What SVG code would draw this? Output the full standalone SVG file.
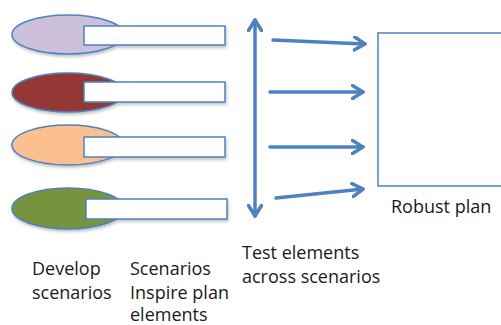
<svg xmlns="http://www.w3.org/2000/svg" width="501" height="325" viewBox="0 0 501 325">
  <style>
    .ell { stroke: #4F81BD; stroke-width: 1.5; }
    .box { fill: #FFFFFF; stroke: #4F81BD; stroke-width: 1.5; }
    .conn { stroke: #4F81BD; stroke-width: 3.5; fill: none; stroke-linecap: round; }
    .lbl { font-family: "Open Sans", "Liberation Sans", sans-serif; font-size: 18px; fill: #1a1a1a; }
  </style>
  <defs>
    <filter id="sh" x="-10%" y="-20%" width="130%" height="160%">
      <feDropShadow dx="1" dy="2" stdDeviation="1.5" flood-color="#000" flood-opacity="0.25"/>
    </filter>
    <marker id="ah" viewBox="0 0 14 16" refX="12" refY="8" markerWidth="14" markerHeight="16" markerUnits="userSpaceOnUse" orient="auto-start-reverse">
      <path d="M1.5,1.5 L12,8 L1.5,14.5" fill="none" stroke="#4F81BD" stroke-width="3.5" stroke-linecap="round" stroke-linejoin="round"/>
    </marker>
  </defs>

  <g id="scenario1" filter="url(#sh)">
    <ellipse class="ell" cx="68" cy="34.5" rx="56" ry="19.5" fill="#CCC0DA"/>
    <rect class="box" x="84" y="26" width="141" height="19"/>
  </g>
  <g id="scenario2" filter="url(#sh)">
    <ellipse class="ell" cx="68" cy="92.5" rx="56" ry="19.5" fill="#953735"/>
    <rect class="box" x="84" y="82" width="141" height="20"/>
  </g>
  <g id="scenario3" filter="url(#sh)">
    <ellipse class="ell" cx="68" cy="145" rx="56" ry="20" fill="#FAC090"/>
    <rect class="box" x="84" y="137" width="141" height="20"/>
  </g>
  <g id="scenario4" filter="url(#sh)">
    <ellipse class="ell" cx="68" cy="208.5" rx="56" ry="20.5" fill="#77933C"/>
    <rect class="box" x="86" y="199" width="141" height="20"/>
  </g>

  <g id="robust-plan">
    <rect x="378" y="33" width="130" height="153" fill="#FFFFFF" stroke="#4F81BD" stroke-width="1.5"/>
  </g>

  <g id="connectors">
    <line class="conn" x1="255" y1="20" x2="255" y2="216" marker-start="url(#ah)" marker-end="url(#ah)"/>
    <line class="conn" x1="273" y1="40" x2="365" y2="44" marker-end="url(#ah)"/>
    <line class="conn" x1="270" y1="92" x2="363" y2="92" marker-end="url(#ah)"/>
    <line class="conn" x1="270" y1="147" x2="363" y2="147" marker-end="url(#ah)"/>
    <line class="conn" x1="276" y1="198" x2="363" y2="189" marker-end="url(#ah)"/>
  </g>

  <g id="labels">
    <text class="lbl" x="32" y="275">Develop</text>
    <text class="lbl" x="32" y="299">scenarios</text>
    <text class="lbl" x="130" y="275">Scenarios</text>
    <text class="lbl" x="130" y="299">Inspire plan</text>
    <text class="lbl" x="130" y="321">elements</text>
    <text class="lbl" x="242" y="259">Test elements</text>
    <text class="lbl" x="242" y="283">across scenarios</text>
    <text class="lbl" x="391" y="213">Robust plan</text>
  </g>
</svg>
